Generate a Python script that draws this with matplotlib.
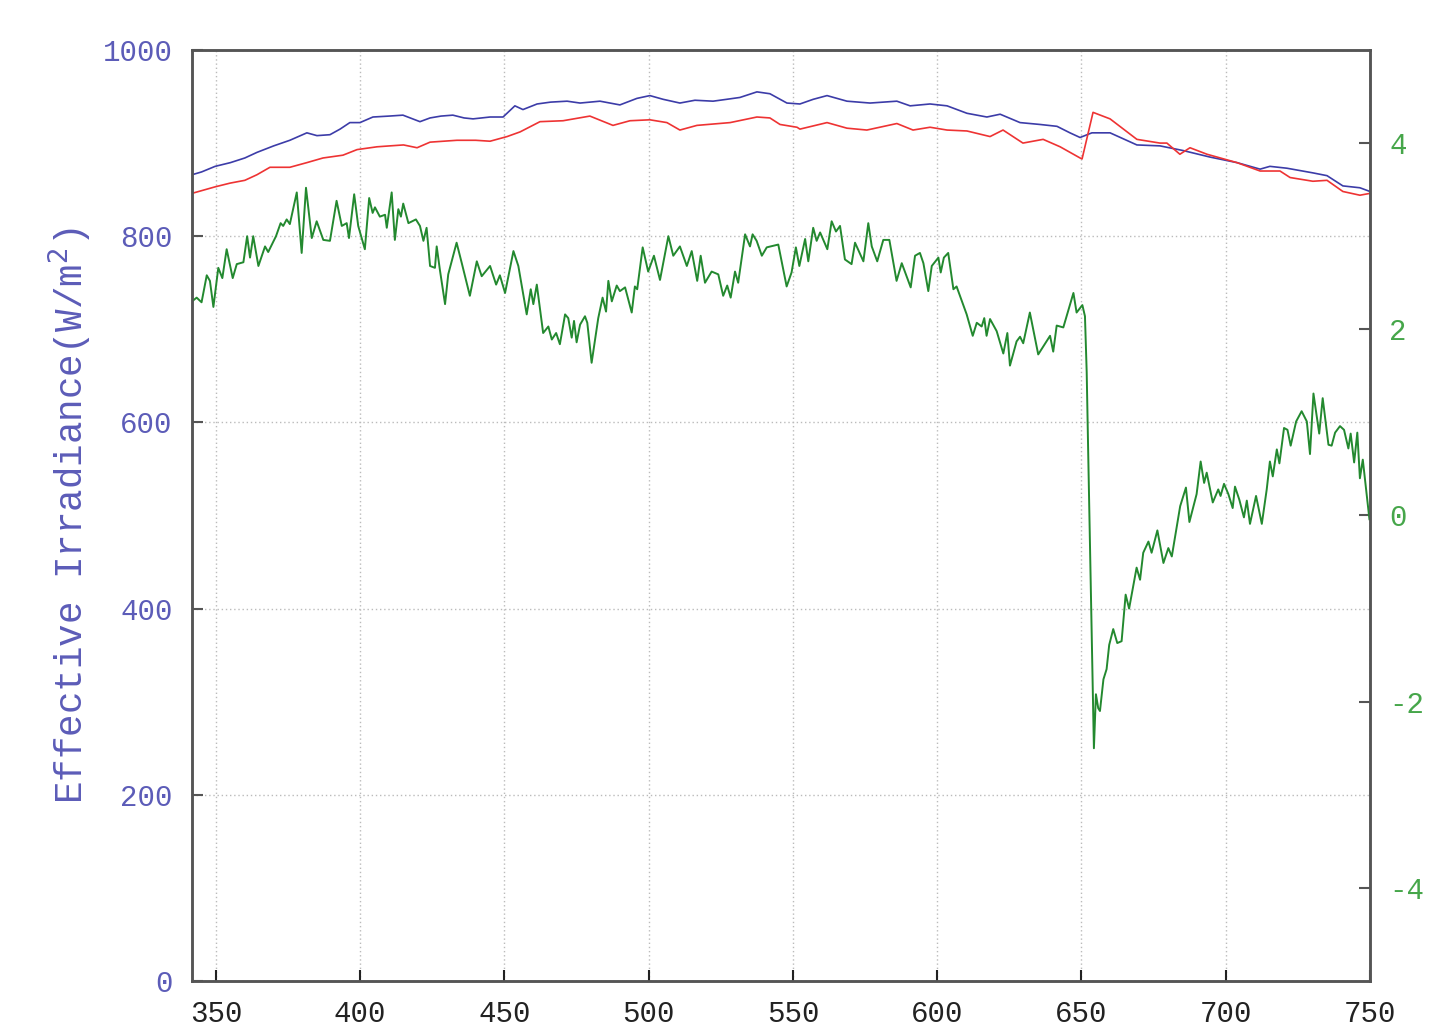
import numpy as np
import matplotlib
matplotlib.use("Agg")
import matplotlib.pyplot as plt

# wavelength (nm) and irradiance (W/m^2), left axis
blue_wl = [341.7, 345, 349.7, 355, 360, 364.2, 370, 375.6, 381.5, 385, 389.5, 393, 396.4, 399.9,
           404.4, 410, 414.8, 420.7, 424.2, 428, 432.1, 436, 439.1, 445, 449.5, 453.6, 456.4,
           461.3, 466, 471.7, 476.2, 483.1, 490.0, 495.9, 500.4, 505, 510.8, 516, 522.3, 527,
           531.6, 537.5, 542.0, 547.9, 552.4, 557, 561.8, 568.7, 576.7, 586.0, 590.6, 597.5,
           603.4, 610.3, 617.2, 621.8, 628.7, 635.6, 641.5, 646.0, 649.5, 653.6, 659.9, 669.2,
           677.2, 685.2, 694.5, 703.9, 711.9, 715.3, 721.2, 730.2, 735.1, 740.6, 746.5, 750]
blue_val = [866, 869, 875, 879, 884, 890, 897, 903, 911, 908, 909, 915, 922, 922,
            928, 929, 930, 923, 927, 929, 930, 927, 926, 928, 928, 940, 936,
            942, 944, 945, 943, 945, 941, 948, 951, 947, 943, 946, 945, 947,
            949, 955, 953, 943, 942, 947, 951, 945, 943, 945, 940, 942,
            940, 932, 928, 931, 922, 920, 918, 911, 906, 911, 911, 898,
            897, 892, 885, 879, 872, 875, 873, 868, 865, 854, 852, 848]

red_wl = [341.7, 349.7, 354.9, 360, 364.2, 368.7, 375.6, 381.5, 387.1, 394.0, 398.9, 405.8,
          410.3, 415, 419.7, 424.2, 433.5, 440, 445.0, 450.9, 455.4, 462.3, 470.3, 479.6,
          487.6, 493.5, 500.4, 506.3, 510.8, 516.7, 528.2, 537.5, 542.0, 545.5, 551.4, 552.4,
          561.8, 568.7, 575.6, 586.0, 591.6, 597.5, 603.4, 610.3, 618.3, 622.8, 629.7, 636.7,
          642.6, 649.5, 650.2, 654.0, 659.9, 669.2, 677.2, 679.6, 684.1, 687.6, 693.5, 703.9,
          711.9, 718.8, 722.3, 730.2, 735.1, 740.6, 746.5, 750]
red_val = [846, 853, 857, 860, 866, 874, 874, 879, 884, 887, 893, 896,
           897, 898, 895, 901, 903, 903, 902, 907, 912, 923, 924, 929,
           919, 924, 925, 922, 914, 919, 922, 928, 927, 920, 917, 915,
           922, 916, 914, 921, 914, 917, 914, 913, 907, 914, 900, 904,
           896, 884, 883, 933, 926, 904, 900, 900, 888, 895, 888, 879,
           870, 870, 863, 859, 860, 848, 844, 846]

# difference curve, right axis
green_wl = [341.7, 343.3, 345.0, 346.8, 347.9, 349.1, 350.8, 352.2, 353.7, 355.8, 357.2, 359.5,
            360.8, 361.8, 362.9, 364.7, 367.0, 368.1, 370.8, 372.4, 373.3, 374.5, 375.6, 378.0,
            379.7, 381.2, 383.2, 384.9, 387.2, 389.5, 391.8, 393.6, 395.3, 396.1, 397.9, 399.3,
            401.6, 403.1, 404.3, 405.1, 406.8, 408.6, 409.2, 410.9, 412.0, 413.2, 414.1, 414.9,
            416.7, 419.3, 420.7, 421.9, 423.0, 424.2, 425.9, 426.5, 427.6, 429.4, 430.5, 433.4,
            435.2, 438.0, 440.4, 442.1, 445.0, 447.1, 448.4, 450.2, 453.1, 454.8, 457.7, 459.1,
            460.0, 461.2, 463.4, 465.2, 466.4, 467.9, 469.2, 471.0, 472.1, 473.3, 474.1, 475.0,
            476.2, 477.9, 478.7, 480.2, 482.5, 484.0, 485.2, 486.0, 487.2, 488.9, 490.0, 491.8,
            494.1, 495.2, 496.0, 497.9, 499.8, 501.8, 503.9, 506.8, 508.5, 510.8, 513.2, 514.9,
            516.8, 518.0, 519.5, 521.8, 524.1, 525.8, 527.2, 528.4, 529.9, 531.0, 533.4, 535.1,
            536.0, 537.4, 539.2, 540.9, 544.9, 547.8, 549.5, 551.0, 552.2, 554.2, 555.3, 557.0,
            558.2, 559.4, 561.9, 563.4, 564.9, 566.3, 568.0, 570.3, 571.5, 574.4, 576.1, 577.3,
            579.2, 581.3, 583.4, 585.9, 587.7, 590.8, 592.3, 594.0, 595.2, 596.9, 598.1, 600.4,
            601.2, 602.3, 603.8, 605.6, 606.7, 610.2, 612.3, 613.7, 615.4, 616.3, 617.1, 618.3,
            620.6, 622.9, 624.3, 625.2, 627.5, 628.7, 629.8, 632.1, 635.0, 637.9, 639.1, 640.2,
            641.4, 643.7, 647.2, 648.3, 650.3, 651.2, 651.8, 652.3, 654.3, 655.0, 655.8, 656.4,
            657.6, 658.7, 659.6, 661.0, 662.4, 663.9, 665.3, 666.5, 669.1, 670.3, 671.4, 673.2,
            674.3, 676.3, 678.4, 680.1, 681.3, 684.2, 686.2, 687.4, 689.9, 691.3, 692.5, 693.4,
            695.5, 697.4, 698.2, 699.4, 700.9, 702.4, 703.2, 704.7, 706.3, 707.3, 708.4, 710.5,
            712.5, 714.2, 715.3, 716.3, 717.7, 718.6, 720.2, 721.4, 722.5, 724.4, 726.3, 728.1,
            729.2, 730.4, 732.4, 733.6, 735.6, 736.7, 737.9, 739.6, 741.0, 742.5, 743.3, 744.5,
            745.6, 746.5, 747.5, 749.8]
green_val = [2.30, 2.34, 2.29, 2.58, 2.52, 2.24, 2.66, 2.55, 2.86, 2.55, 2.70, 2.72,
             3.00, 2.77, 3.00, 2.68, 2.89, 2.83, 3.00, 3.14, 3.11, 3.18, 3.13, 3.47,
             2.82, 3.52, 2.98, 3.16, 2.96, 2.95, 3.38, 3.11, 3.14, 2.98, 3.45, 3.11,
             2.86, 3.41, 3.25, 3.31, 3.21, 3.23, 3.09, 3.47, 2.96, 3.29, 3.21, 3.35,
             3.14, 3.18, 3.11, 2.95, 3.09, 2.68, 2.66, 2.89, 2.64, 2.27, 2.59, 2.93,
             2.71, 2.36, 2.73, 2.57, 2.68, 2.48, 2.58, 2.39, 2.84, 2.68, 2.16, 2.43,
             2.27, 2.48, 1.96, 2.03, 1.89, 1.96, 1.84, 2.16, 2.12, 1.91, 2.09, 1.86,
             2.05, 2.14, 2.07, 1.64, 2.12, 2.34, 2.19, 2.52, 2.30, 2.47, 2.41, 2.45,
             2.18, 2.46, 2.43, 2.88, 2.62, 2.79, 2.53, 3.00, 2.79, 2.89, 2.68, 2.84,
             2.52, 2.79, 2.50, 2.62, 2.59, 2.36, 2.47, 2.34, 2.62, 2.50, 3.02, 2.89,
             3.02, 2.95, 2.79, 2.88, 2.91, 2.46, 2.61, 2.88, 2.68, 2.97, 2.73, 3.09,
             2.95, 3.04, 2.86, 3.16, 3.05, 3.11, 2.75, 2.70, 2.93, 2.73, 3.14, 2.89,
             2.73, 2.96, 2.96, 2.52, 2.71, 2.45, 2.79, 2.82, 2.71, 2.41, 2.68, 2.77,
             2.61, 2.77, 2.82, 2.43, 2.46, 2.16, 1.93, 2.07, 2.03, 2.12, 1.93, 2.11,
             1.98, 1.74, 1.96, 1.61, 1.87, 1.92, 1.85, 2.18, 1.73, 1.87, 1.93, 1.76,
             2.04, 2.02, 2.39, 2.18, 2.26, 2.14, 1.54, 0.71, -2.50, -1.92, -2.07, -2.10,
             -1.76, -1.65, -1.39, -1.22, -1.37, -1.35, -0.85, -1.00, -0.56, -0.69, -0.40, -0.28,
             -0.40, -0.16, -0.51, -0.35, -0.44, 0.10, 0.30, -0.07, 0.23, 0.58, 0.35, 0.46,
             0.14, 0.28, 0.21, 0.34, 0.23, 0.08, 0.31, 0.17, -0.02, 0.16, -0.09, 0.21,
             -0.09, 0.28, 0.58, 0.42, 0.71, 0.56, 0.94, 0.92, 0.75, 1.01, 1.12, 1.01,
             0.66, 1.31, 0.88, 1.26, 0.76, 0.75, 0.89, 0.96, 0.92, 0.72, 0.88, 0.57,
             0.89, 0.40, 0.60, -0.04]

x_ticks = [350, 400, 450, 500, 550, 600, 650, 700, 750]
left_ticks = [0, 200, 400, 600, 800, 1000]
right_ticks = [-4, -2, 0, 2, 4]

plt.rcParams['font.family'] = ['Liberation Mono', 'DejaVu Sans Mono']
plt.rcParams['axes.unicode_minus'] = False

fig = plt.figure(figsize=(14.45, 10.22), dpi=100)
ax = fig.add_axes([0.1329, 0.0401, 0.8152, 0.9110])
ax2 = ax.twinx()

ax.plot(blue_wl, blue_val, color='#3c3ca8', lw=1.2)
ax.plot(red_wl, red_val, color='#ee3333', lw=1.2)
ax2.plot(green_wl, green_val, color='#23892f', lw=1.4)

ax.set_xlim(341.7, 750)
ax.set_ylim(0, 1000)
ax2.set_ylim(-5, 5)

ax.set_xticks(x_ticks)
ax.set_yticks(left_ticks)
ax2.set_yticks(right_ticks)

ax.grid(True, color='#bbbbbb', linestyle=(0, (1, 2)), lw=1.0)

ax.tick_params(axis='x', direction='in', length=8, width=1.5, pad=14,
               labelsize=21, colors='#222222', top=False)
ax.tick_params(axis='y', direction='in', length=8, width=1.5, pad=14,
               labelsize=21, labelcolor='#5c5cb8', color='#555555')
ax2.tick_params(axis='y', direction='in', length=8, width=1.5, pad=14,
                labelsize=21, labelcolor='#46a64a', color='#555555')

for a in (ax, ax2):
    for s in a.spines.values():
        s.set_color('#555555')
        s.set_linewidth(1.8)

ax.set_ylabel('Effective Irradiance(W/m$^2$)', fontsize=27, color='#5c5cb8', labelpad=6)

fig.savefig('out.png', dpi=100)
